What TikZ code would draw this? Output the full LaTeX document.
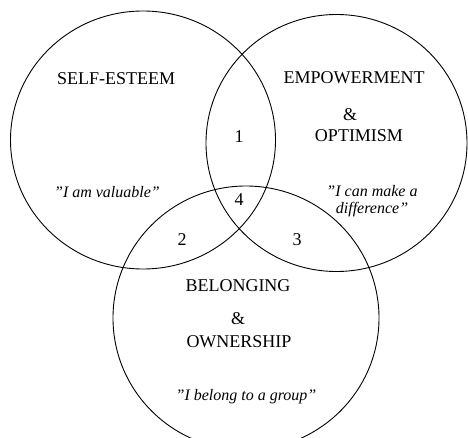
\documentclass[tikz,border=0pt]{standalone}
\usepackage{fontspec}
\setmainfont{Liberation Serif}
\begin{document}
\begin{tikzpicture}[x=1pt,y=-1pt,
		title/.style={font=\fontsize{18}{20}\selectfont},
		quote/.style={font=\fontsize{16}{17}\selectfont\itshape, align=center},
		region/.style={font=\fontsize{18}{20}\selectfont}]
		% Rahmen des Bildes
		\useasboundingbox (0,0) rectangle (468,438);
		\clip (0,0) rectangle (468,438);
		
		% Die drei Kreise
		\draw[line width=0.9pt] (143,140) ellipse (132.5 and 129);
		\draw[line width=0.9pt] (336.5,143) ellipse (130.5 and 128.5);
		\draw[line width=0.9pt] (246,318) ellipse (133 and 132);
		
		% Kreis links
		\node[title] (selfesteem) at (116,79) {SELF-ESTEEM};
		\node[quote] (valuable) at (107,192) {"I am valuable''};
		
		% Kreis rechts
		\node[title] (empower) at (354,78) {EMPOWERMENT};
		\node[title] (amp1) at (350,115) {\&};
		\node[title] (optimism) at (359,136) {OPTIMISM};
		\node[quote] (difference) at (372,201) {"I can make a\\difference''};
		
		% Kreis unten
		\node[title] (belonging) at (238,286) {BELONGING};
		\node[title] (amp2) at (238,319) {\&};
		\node[title] (ownership) at (239,342) {OWNERSHIP};
		\node[quote] (group) at (246,397) {"I belong to a group''};
		
		% Schnittflaechen 1-4
		\foreach \n/\x/\y in {1/239/137, 2/182/240, 3/297/240, 4/239/200} {
			\node[region] (r\n) at (\x,\y) {\n};
		}
	\end{tikzpicture}
\end{document}
